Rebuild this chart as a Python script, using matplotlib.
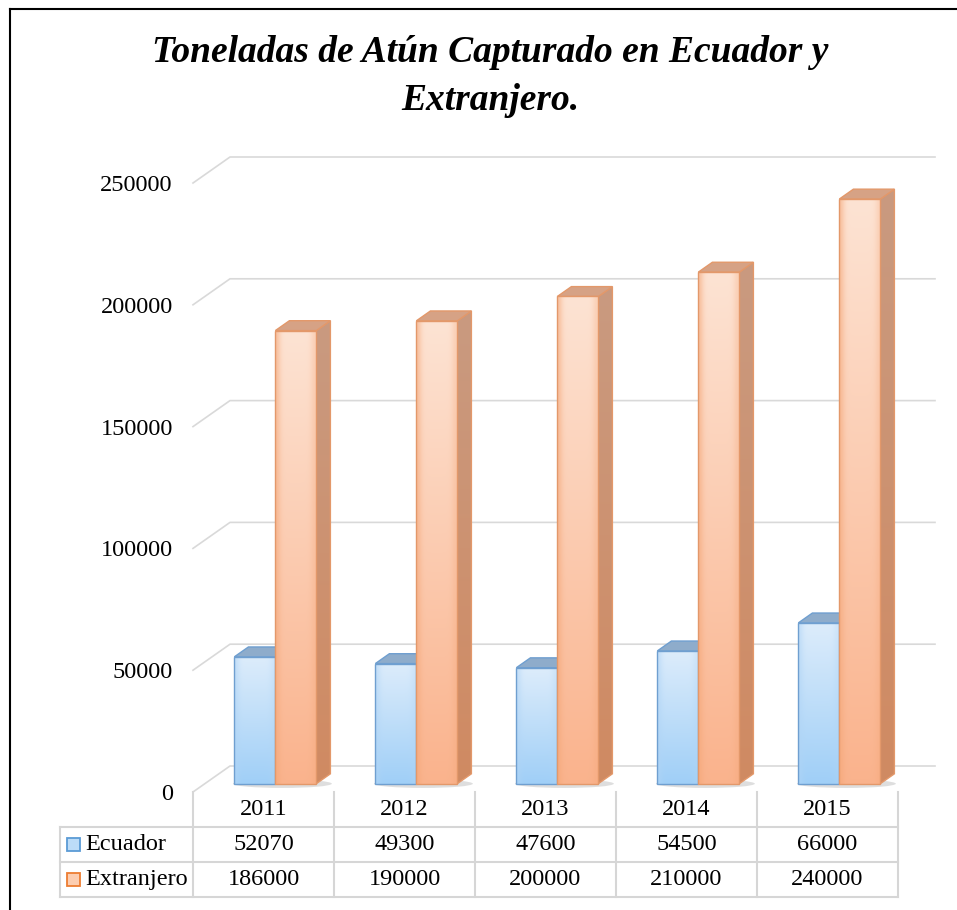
import numpy as np
import matplotlib
matplotlib.use("Agg")
import matplotlib.pyplot as plt
from matplotlib.patches import Polygon, Rectangle, Ellipse
from matplotlib.lines import Line2D
from matplotlib.colors import to_rgb

# Data
years = ['2011', '2012', '2013', '2014', '2015']
ecuador = [52070, 49300, 47600, 54500, 66000]
extranjero = [186000, 190000, 200000, 210000, 240000]
series_names = ['Ecuador', 'Extranjero']
yticks = [0, 50000, 100000, 150000, 200000, 250000]

plt.rcParams['font.family'] = ['Liberation Serif', 'DejaVu Serif']

W, H = 957, 910
fig = plt.figure(figsize=(W / 100, H / 100), dpi=100)


def box(l, t, r, b):
    # pixel rectangle -> figure fraction
    return [l / W, 1 - b / H, (r - l) / W, (b - t) / H]


ax = fig.add_axes(box(193, 183, 898, 792))

# 3D look: back wall offset in data units
DX = 37 / 141
DY = 26 * 250000 / 609
f0, f1 = 0.32, 0.70      # depth of bar front / back
bw = 41 / 141            # bar width

# gridlines (front-left slant + back wall)
for v in yticks:
    ax.plot([-0.5, -0.5 + DX, 4.5 + DX], [v, v + DY, v + DY],
            color='#d9d9d9', lw=1.2, clip_on=False, zorder=1)


def grad_face(pts, c_top, c_bot, edge, z, c_rim=None):
    poly = Polygon(pts, closed=True, facecolor='none', edgecolor=edge,
                   lw=1.0, zorder=z + 0.1)
    ax.add_patch(poly)
    xs = [p[0] for p in pts]
    ys = [p[1] for p in pts]
    ty = np.linspace(0, 1, 64)[:, None, None]
    img = np.array(to_rgb(c_bot)) * (1 - ty) + np.array(to_rgb(c_top)) * ty
    img = np.repeat(img, 32, axis=1)
    if c_rim is not None:
        tx = np.linspace(0, 1, 32)
        w = 0.55 * np.exp(-(tx / 0.12) ** 2) + 0.3 * np.exp(-((1 - tx) / 0.12) ** 2)
        w = w[None, :, None]
        img = img * (1 - w) + np.array(to_rgb(c_rim)) * w
    im = ax.imshow(img, origin='lower', aspect='auto',
                   extent=[min(xs), max(xs), min(ys), max(ys)],
                   interpolation='bilinear', zorder=z)
    im.set_clip_path(poly)


styles = [
    # front top, front bottom, edge, top face, side top, side bottom, rim
    ('#dcecfb', '#a0cff7', '#6f9fd0', '#8eaccb', '#8fb3d6', '#7aa2cb', '#b0d4f5'),
    ('#fde3d3', '#fab38d', '#e3986a', '#d6a285', '#c99a80', '#d08a62', '#f4a677'),
]

# soft shadows at the base of each pair of bars
for i in range(len(years)):
    ax.add_patch(Ellipse((i + (f0 + f1) / 2 * DX, f0 * DY), 2 * bw + 0.12, 3500,
                         facecolor='#7f7f7f', alpha=0.25, lw=0, zorder=1.5))

z = 2
for i in range(len(years)):
    for s, vals in enumerate([ecuador, extranjero]):
        v = vals[i]
        ft, fb, ec, tc, st, sb, rim = styles[s]
        x0 = i - bw if s == 0 else i
        xa, xb = x0 + f0 * DX, x0 + bw + f0 * DX
        ya = f0 * DY
        # side face
        side = [(x0 + bw + f0 * DX, f0 * DY), (x0 + bw + f0 * DX, v + f0 * DY),
                (x0 + bw + f1 * DX, v + f1 * DY), (x0 + bw + f1 * DX, f1 * DY)]
        grad_face(side, st, sb, ec, z)
        # top face
        top = [(x0 + f0 * DX, v + f0 * DY), (x0 + bw + f0 * DX, v + f0 * DY),
               (x0 + bw + f1 * DX, v + f1 * DY), (x0 + f1 * DX, v + f1 * DY)]
        ax.add_patch(Polygon(top, closed=True, facecolor=tc, edgecolor=ec,
                             lw=1.0, zorder=z + 0.2))
        # front face
        front = [(xa, ya), (xb, ya), (xb, v + ya), (xa, v + ya)]
        grad_face(front, ft, fb, ec, z + 0.3, rim)
        z += 1

ax.set_xlim(-0.5, 4.5)
ax.set_ylim(0, 250000)
ax.set_xticks([])
ax.set_yticks(yticks)
ax.set_yticklabels([str(t) for t in yticks], fontsize=17.5)
ax.tick_params(axis='y', length=0, pad=14.5)
for sp in ax.spines.values():
    sp.set_visible(False)
ax.patch.set_alpha(0)

# data table
xt_left = -0.5 - 133 / 141
axt = fig.add_axes(box(60, 792, 898, 897))
axt.set_xlim(xt_left, 4.5)
axt.set_ylim(3, 0)
axt.axis('off')
lc = '#d6d6d6'
for k in range(6):
    axt.plot([-0.5 + k, -0.5 + k], [0, 3], color=lc, lw=1.5, clip_on=False)
axt.plot([xt_left, xt_left], [1, 3], color=lc, lw=1.5, clip_on=False)
for yv in [1, 2, 3]:
    axt.plot([xt_left, 4.5], [yv, yv], color=lc, lw=1.5, clip_on=False)

for i, yr in enumerate(years):
    axt.text(i, 0.5, yr, ha='center', va='center', fontsize=17.5)
    axt.text(i, 1.5, str(ecuador[i]), ha='center', va='center', fontsize=17.5)
    axt.text(i, 2.5, str(extranjero[i]), ha='center', va='center', fontsize=17.5)

key_fc = ['#bcdcf8', '#fccdb0']
key_ec = ['#5b9bd5', '#ed7d31']
for r, name in enumerate(series_names):
    axt.add_patch(Rectangle((xt_left + 7 / 141, 1.5 + r - 0.18), 13 / 141, 0.36,
                            facecolor=key_fc[r], edgecolor=key_ec[r], lw=1.3))
    axt.text(xt_left + 25 / 141, 1.5 + r, name, ha='left', va='center',
             fontsize=17.5)

# title
fig.text(490 / W, 1 - 62 / H, 'Toneladas de Atún Capturado en Ecuador y',
         ha='center', va='baseline', fontsize=27, fontweight='bold',
         fontstyle='italic')
fig.text(490 / W, 1 - 110 / H, 'Extranjero.', ha='center', va='baseline',
         fontsize=27, fontweight='bold', fontstyle='italic')

# outer frame (left and top edges visible)
fig.add_artist(Line2D([9.5 / W, 9.5 / W], [0, 1 - 8.5 / H], color='black', lw=1.5))
fig.add_artist(Line2D([9.5 / W, 1], [1 - 8.5 / H, 1 - 8.5 / H], color='black', lw=1.5))

fig.savefig('out.png', dpi=100)
